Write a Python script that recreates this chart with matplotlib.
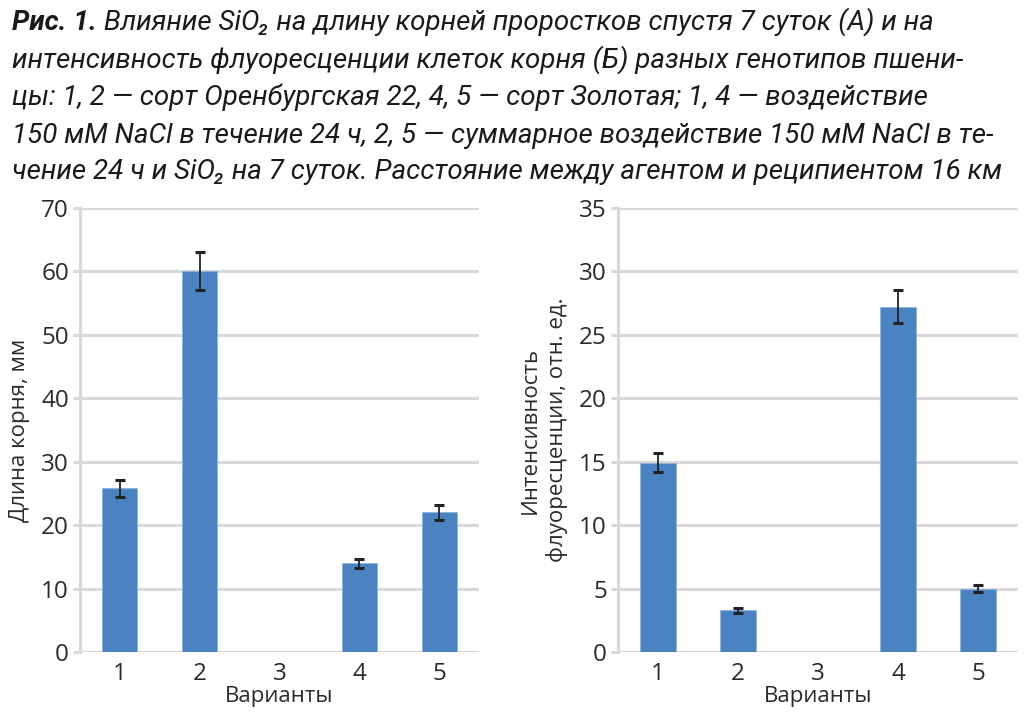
import numpy as np
import matplotlib
matplotlib.use("Agg")
import matplotlib.pyplot as plt

# data
variants = ["1", "2", "3", "4", "5"]
root_len = [25.8, 60.1, 0, 14.0, 22.0]
root_err = [1.3, 3.0, 0, 0.7, 1.2]
fluor = [14.9, 3.3, 0, 27.2, 5.0]
fluor_err = [0.75, 0.2, 0, 1.3, 0.28]

title_bold = "Рис. 1."
title_lines = [
    " Влияние SiO\u2082 на длину корней проростков спустя 7 суток (А) и на",
    "интенсивность флуоресценции клеток корня (Б) разных генотипов пшени-",
    "цы: 1, 2 — сорт Оренбургская 22, 4, 5 — сорт Золотая; 1, 4 — воздействие",
    "150 мМ NaCl в течение 24 ч, 2, 5 — суммарное воздействие 150 мМ NaCl в те-",
    "чение 24 ч и SiO\u2082 на 7 суток. Расстояние между агентом и реципиентом 16 км",
]

bar_color = "#4a83c1"
grid_color = "#d9d9d9"
text_color = "#2b2b2b"
tfont = ["Roboto", "DejaVu Sans"]
afont = ["Open Sans", "DejaVu Sans"]

fig = plt.figure(figsize=(10.24, 7.15), dpi=100)
W, H = 1024, 715


def setup(ax, vals, errs, ymax, step, ylabel):
    x = np.arange(len(variants))
    ax.bar(x, vals, width=0.44, color=bar_color, edgecolor="#8fb4de",
           linewidth=0.6, zorder=3)
    xs = [i for i, v in enumerate(vals) if v > 0]
    ax.errorbar([x[i] for i in xs], [vals[i] for i in xs],
                yerr=[errs[i] for i in xs], fmt="none", ecolor="#222222",
                elinewidth=1.3, capsize=3.5, capthick=2.2, zorder=4)
    ax.set_xlim(-0.5, len(variants) - 0.5)
    ax.set_ylim(0, ymax)
    ax.set_yticks(np.arange(0, ymax + 0.1, step))
    ax.set_xticks(x)
    ax.set_xticklabels(variants)
    ax.yaxis.grid(True, color=grid_color, linewidth=2.2, zorder=0)
    ax.set_axisbelow(True)
    for s in ["top", "right", "bottom"]:
        ax.spines[s].set_visible(False)
    ax.spines["left"].set_color(grid_color)
    ax.spines["left"].set_linewidth(2.2)
    ax.tick_params(axis="y", length=5, width=2.2, color=grid_color,
                   labelsize=17.5, labelcolor=text_color, pad=3)
    ax.tick_params(axis="x", length=0, labelsize=17.5, labelcolor=text_color, pad=7)
    for lab in ax.get_xticklabels() + ax.get_yticklabels():
        lab.set_family(afont)
    ax.set_xlabel("Варианты", fontsize=16, color=text_color, family=afont, labelpad=0)
    ax.set_ylabel(ylabel, fontsize=16, color=text_color, family=afont,
                  linespacing=1.3)


ax1 = fig.add_axes([80 / W, (H - 652) / H, 399 / W, 444 / H])
setup(ax1, root_len, root_err, 70, 10, "Длина корня, мм")
ax1.yaxis.set_label_coords(-0.125, 0.5)

ax2 = fig.add_axes([618 / W, (H - 652) / H, 400 / W, 444 / H])
setup(ax2, fluor, fluor_err, 35, 5, "Интенсивность\nфлуоресценции, отн. ед.")
ax2.yaxis.set_label_coords(-0.125, 0.5)

# caption: fit the font size so the longest line spans the same width
fs = 22
base = [30, 68, 105, 143, 179]
probe = fig.text(12 / W, 0.5, title_lines[4], fontsize=fs, style="italic",
                 family=tfont)
fig.canvas.draw()
wpx = probe.get_window_extent().width
probe.remove()
fs = fs * (1000 - 12) / wpx

t0 = fig.text(12 / W, 1 - base[0] / H, title_bold, fontsize=fs, style="italic",
              weight="bold", family=tfont, va="baseline", color="#1a1a1a")
ax1.annotate(title_lines[0], xy=(1, 0), xycoords=t0, va="bottom", ha="left",
             fontsize=fs, style="italic", family=tfont, color="#1a1a1a",
             annotation_clip=False)
for i in range(1, 5):
    fig.text(12 / W, 1 - base[i] / H, title_lines[i], fontsize=fs, style="italic",
             family=tfont, va="baseline", color="#1a1a1a")

fig.savefig("out.png", dpi=100)
